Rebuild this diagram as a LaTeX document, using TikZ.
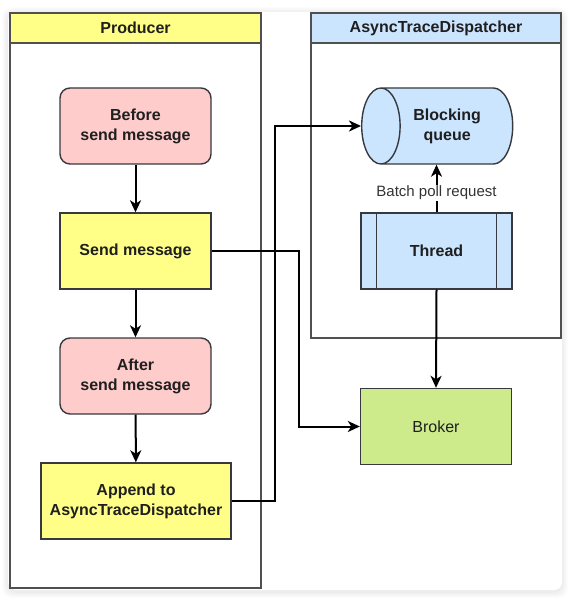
\documentclass[tikz,border=0pt]{standalone}
\usepackage{fontspec}
\setmainfont{Liberation Sans}
\usetikzlibrary{arrows.meta}
\usetikzlibrary{shapes.geometric}

\definecolor{laneyellow}{HTML}{FFFF88}
\definecolor{laneblue}{HTML}{CCE5FF}
\definecolor{boxpink}{HTML}{FFCCCC}
\definecolor{boxgreen}{HTML}{CDEB8B}
\definecolor{boxline}{HTML}{36393D}
\definecolor{laneline}{HTML}{505050}

\begin{document}
\begin{tikzpicture}[x=1pt, y=-1pt,
    txt/.style={font=\fontsize{16}{20}\selectfont\bfseries, align=center, text=black!88},
    box/.style={txt, draw=boxline, line width=1.4pt, minimum width=151pt, minimum height=76pt, inner sep=0pt},
    lane/.style={draw=laneline, line width=1.4pt, fill=white},
    head/.style={lane, txt, minimum height=30pt, inner sep=0pt},
    flow/.style={line width=2pt, -{Stealth[length=12pt, width=11pt, inset=3.5pt]}}
  ]
      \useasboundingbox (0,0) rectangle (571,612);
      \fill[white] (0,0) rectangle (571,612);
      \foreach \s in {1,...,6}
        \fill[black, opacity=0.012, rounded corners=10pt] (8-\s,13-\s) rectangle (562+\s,592+\s);
      \fill[white, rounded corners=8pt] (8,12) rectangle (562,590);

      \draw[lane] (10,13) rectangle (261,588);
      \node[head, fill=laneyellow, minimum width=251pt] (producer) at (135.5,28) {Producer};
      \draw[lane] (311,13) rectangle (561,338);
      \node[head, fill=laneblue, minimum width=250pt] (dispatcher) at (436,28) {AsyncTraceDispatcher};

      \node[box, fill=boxpink, rounded corners=10pt] (before) at (135.5,126) {Before\\send message};
      \node[box, fill=laneyellow] (send) at (135.5,251) {Send message};
      \node[box, fill=boxpink, rounded corners=10pt] (after) at (135.5,376) {After\\send message};
      \node[box, fill=laneyellow, minimum width=190pt] (append) at (136,501) {Append to\\AsyncTraceDispatcher};

      \node[box, cylinder, shape border rotate=180, aspect=1.1, minimum width=76pt, minimum height=151pt, fill=laneblue, anchor=west] (queue) at (361,126) {Blocking\\queue};
      \node[box, fill=laneblue] (thread) at (436.5,251) {Thread};
      \draw[draw=boxline, line width=1.4pt] ([xshift=16pt]thread.north west) -- ([xshift=16pt]thread.south west);
      \draw[draw=boxline, line width=1.4pt] ([xshift=-16pt]thread.north east) -- ([xshift=-16pt]thread.south east);
      \node[box, fill=boxgreen, font=\fontsize{16}{20}\selectfont] (broker) at (436,426.5) {Broker};

      \draw[flow] (before) -- (send);
      \draw[flow] (send) -- (after);
      \draw[flow] (after) -- (append);
      \draw[flow] (append.east) -- ++(43,0) |- (queue.west);
      \draw[flow] (send.east) -- ++(87,0) |- (broker.west);
      \draw[flow] (thread.north) -- (thread.north |- queue.south) node[pos=0.41, fill=white, inner sep=1pt, text=black!80, font=\fontsize{15}{17}\selectfont] {Batch poll request};
      \draw[flow] (thread.south) -- (broker.north);
    \end{tikzpicture}
\end{document}
